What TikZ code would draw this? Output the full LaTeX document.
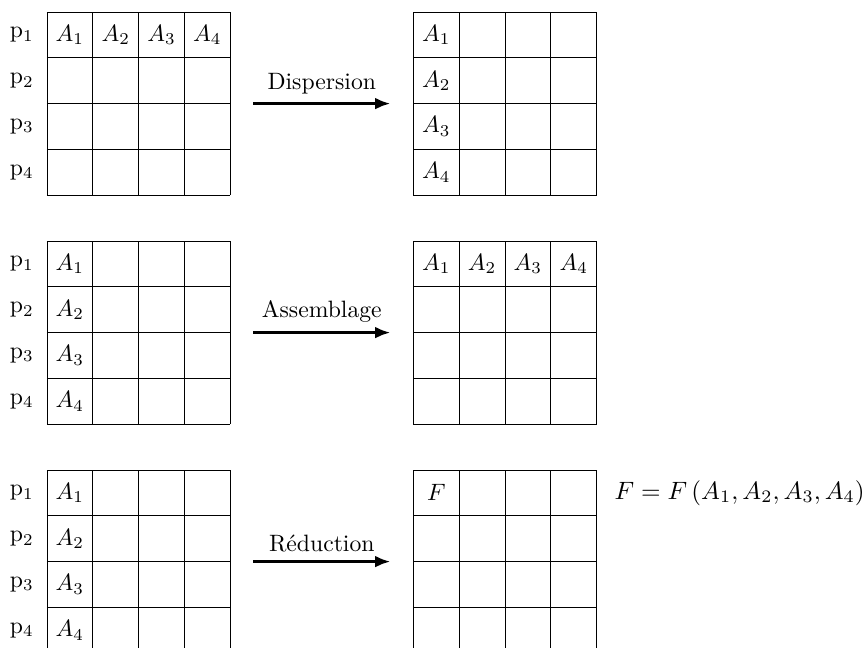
\documentclass[tikz,border=0pt]{standalone}
\usetikzlibrary{arrows.meta}
\begin{document}
\begin{tikzpicture}[x=19.35pt, y=19.35pt, line join=round, >={Latex[length=6.5pt,width=5pt]}]
	\tikzset{fleche/.style={->, line width=1.6pt}}
	\useasboundingbox (-1.026,0.262) rectangle (17.795,-13.886);
	% grilles et processus
	\foreach \row in {0,1,2}{
		\draw[step=1] (0,-5*\row) grid (4,-5*\row-4);
		\draw[step=1] (8,-5*\row) grid (12,-5*\row-4);
		\foreach \i in {1,...,4}
			\node (p\i\row) at (-0.55,-5*\row-\i+0.5) {$\mathrm{p}_{\i}$};
	}
	% donnees
	\foreach \i in {1,...,4}{
		\node (a\i) at (\i-0.5,-0.5) {$A_{\i}$};
		\node (b\i) at (8.5,-\i+0.5) {$A_{\i}$};
		\node (c\i) at (0.5,-5-\i+0.5) {$A_{\i}$};
		\node (d\i) at (\i+7.5,-5.5) {$A_{\i}$};
		\node (e\i) at (0.5,-10-\i+0.5) {$A_{\i}$};
	}
	\node (f) at (8.5,-10.5) {$F$};
	\node[anchor=west, scale=1.06] (formule) at (12.2,-10.5) {$F=F\left(A_1,A_2,A_3,A_4\right)$};
	% fleches
	\coordinate (s1) at (4.5,-2);  \coordinate (t1) at (7.5,-2);
	\coordinate (s2) at (4.5,-7);  \coordinate (t2) at (7.5,-7);
	\coordinate (s3) at (4.5,-12); \coordinate (t3) at (7.5,-12);
	\draw[fleche] (s1) -- (t1) node[midway,above] (disp) {Dispersion};
	\draw[fleche] (s2) -- (t2) node[midway,above] (assem) {Assemblage};
	\draw[fleche] (s3) -- (t3) node[midway,above] (reduc) {R\'eduction};
\end{tikzpicture}
\end{document}
